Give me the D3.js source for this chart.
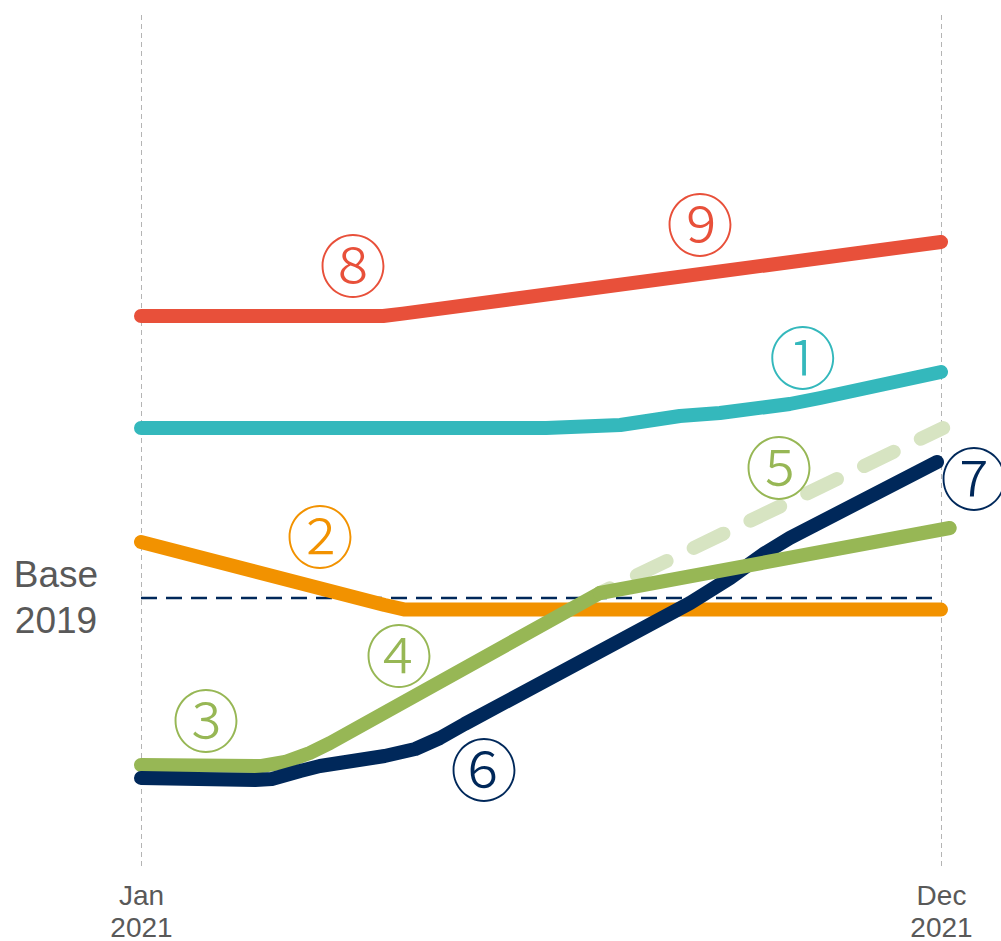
<!DOCTYPE html>
<html>
<head>
<meta charset="utf-8">
<script src="https://cdn.jsdelivr.net/npm/d3@7"></script>
<style>
  body { margin: 0; background: #fff; }
  svg { display: block; font-family: "Liberation Sans", Arial, sans-serif; }
</style>
</head>
<body>
<div id="chart"></div>
<script>
// x = month index (0 = Jan 2021, 11 = Dec 2021), y = index, Base 2019 = 100
const tickMonths = [0, 11];
const tickLabels = [["Jan", "2021"], ["Dec", "2021"]];
const baseValue = 100;

const redSeries = [[0, 170.5], [3.33, 170.5], [3.6, 171.1], [11, 189]];
const tealSeries = [[0, 142.5], [5.57, 142.5], [6.59, 143.25], [7.41, 145.5], [7.96, 146.25], [8.92, 148.5], [9.34, 150], [11, 156.5]];
const orangeSeries = [[0, 114], [3.35, 98.25], [3.63, 97.1], [11, 97.1]];
const greenSeries = [[0, 58.25], [1.66, 58], [1.98, 59], [2.32, 61.25], [2.6, 63.75], [6.31, 101.25]];
const greenLateSeries = [[6.31, 101.25], [11.12, 117.5]];
const greenDashSeries = [[6.31, 101.25], [11.03, 142.5]];
const navySeries = [[0, 55], [1.57, 54.5], [1.8, 54.75], [2.19, 56.75], [2.46, 58], [3.35, 60.5], [3.77, 62.25], [4.11, 65], [4.45, 68.5],
    [7.55, 98.75], [8.1, 105], [8.58, 111.25], [8.92, 115], [10.945, 134]];

// circled markers: [glyph, month, value, colour]
const markers = [
    ["⑧", 2.915, 182.5, "#e8503a"],
    ["⑨", 7.686, 192.75, "#e8503a"],
    ["①", 9.1, 159.5, "#34b8bc"],
    ["②", 2.461, 114.75, "#f29200"],
    ["③", 0.894, 68.75, "#97b755"],
    ["④", 3.548, 85, "#97b755"],
    ["⑤", 8.773, 132, "#97b755"],
    ["⑥", 4.716, 56.5, "#00285a"],
    ["⑦", 11.454, 129.25, "#00285a"]
];

const width = 1001, height = 941;

const svg = d3.select("#chart")
    .append("svg")
    .attr("width", width)
    .attr("height", height);

const xScale = d3.scaleLinear().domain([0, 11]).range([141, 941]);
const yScale = d3.scaleLinear().domain([0, 200]).range([998, 198]);

// x axis: the two ticks become dashed gridlines
const xAxis = d3.axisBottom(xScale)
    .tickValues(tickMonths)
    .tickSize(-853)
    .tickFormat("");

const axisG = svg.append("g")
    .attr("transform", "translate(0, 866)")
    .call(xAxis);
axisG.select(".domain").remove();
axisG.selectAll(".tick line")
    .attr("stroke", "#b4b4b4")
    .attr("stroke-width", 1)
    .attr("stroke-dasharray", "5,4");

axisG.selectAll(".tick").each(function (d, i) {
    const t = d3.select(this).append("text")
        .attr("fill", "#595959")
        .attr("font-size", "28px")
        .attr("text-anchor", "middle");
    tickLabels[i].forEach((s, j) => {
        t.append("tspan").attr("x", 0).attr("y", 39 + j * 32).text(s);
    });
});

// base 2019 reference line
svg.append("line")
    .attr("x1", xScale(0))
    .attr("x2", xScale(11))
    .attr("y1", yScale(baseValue))
    .attr("y2", yScale(baseValue))
    .attr("stroke", "#00285a")
    .attr("stroke-width", 2.5)
    .attr("stroke-dasharray", "16,9");

const baseText = svg.append("text")
    .attr("fill", "#595959")
    .attr("font-size", "37px")
    .attr("text-anchor", "middle");
baseText.append("tspan").attr("x", 56).attr("y", 587).text("Base");
baseText.append("tspan").attr("x", 56).attr("y", 633).text("2019");

const line = d3.line()
    .x(d => xScale(d[0]))
    .y(d => yScale(d[1]));

function drawLine(data, color, dash, offset) {
    const p = svg.append("path")
        .datum(data)
        .attr("d", line)
        .attr("fill", "none")
        .attr("stroke", color)
        .attr("stroke-width", 14)
        .attr("stroke-linecap", "round")
        .attr("stroke-linejoin", "round");
    if (dash) p.attr("stroke-dasharray", dash).attr("stroke-dashoffset", offset);
}

drawLine(orangeSeries, "#f29200");
drawLine(tealSeries, "#34b8bc");
drawLine(redSeries, "#e8503a");
drawLine(greenDashSeries, "#d7e4c2", "33,30", 22);
drawLine(greenSeries, "#97b755");
drawLine(navySeries, "#00285a");
drawLine(greenLateSeries, "#97b755");

// circled number labels
svg.selectAll(".marker")
    .data(markers)
    .join("text")
    .attr("class", "marker")
    .attr("x", d => xScale(d[1]))
    .attr("y", d => yScale(d[2]))
    .attr("dy", "0.35em")
    .attr("text-anchor", "middle")
    .attr("font-family", "'Noto Sans CJK JP', sans-serif")
    .attr("font-weight", 300)
    .attr("font-size", "68px")
    .attr("fill", d => d[3])
    .text(d => d[0]);
</script>
</body>
</html>
